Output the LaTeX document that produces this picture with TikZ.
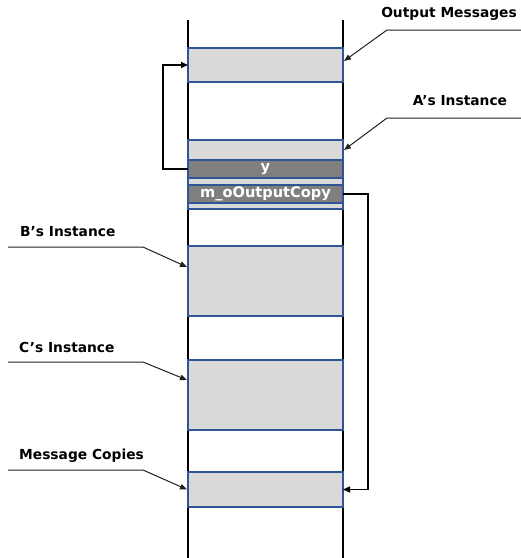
\documentclass[tikz,border=0pt]{standalone}
\usepackage{fontspec}
\setmainfont{DejaVu Sans}
\usetikzlibrary{arrows.meta}
\definecolor{slotfill}{HTML}{D9D9D9}
\definecolor{slotedge}{HTML}{2F5597}
\definecolor{darkslot}{HTML}{7F7F7F}
\definecolor{leadgray}{HTML}{202020}
\tikzset{
  slot/.style={draw=slotedge, line width=1.3pt, fill=slotfill, inner sep=0pt, outer sep=0pt,
               minimum width=155pt, anchor=center},
  darkbox/.style={slot, fill=darkslot, text=white, font=\bfseries\fontsize{14.6}{14.6}\selectfont},
  rail/.style={line width=1.8pt, black},
  loop/.style={line width=1.5pt, black, -{Triangle[length=7pt,width=6pt]}},
  lead/.style={line width=1pt, leadgray, -{Triangle[length=7pt,width=5.5pt]}},
  lbl/.style={font=\bfseries\fontsize{13.8}{14}\selectfont, inner sep=0pt}
}
\begin{document}
\begin{tikzpicture}[x=1pt,y=-1pt]
\useasboundingbox (0,0) rectangle (521,558);
% the two walls of the memory column
\draw[rail] (188,20) -- (188,558);
\draw[rail] (343,20) -- (343,558);
% memory slots
\node[slot, minimum height=34pt] (out) at (265.5,65) {};
\node[slot, minimum height=20pt] (ainst) at (265.5,150) {};
\node[darkbox, minimum height=18pt] (ybox) at (265.5,169) {y};
\node[slot, minimum height=7pt] (strip1) at (265.5,181.5) {};
\node[darkbox, minimum height=18pt] (copybox) at (265.5,194) {m\_oOutputCopy};
\node[slot, minimum height=6pt] (strip2) at (265.5,206) {};
\node[slot, minimum height=70pt] (binst) at (265.5,281) {};
\node[slot, minimum height=70pt] (cinst) at (265.5,395) {};
\node[slot, minimum height=35pt] (msgc) at (265.5,489.5) {};
% labels
\node[lbl, anchor=east] (tout) at (517,14) {Output Messages};
\node[lbl] (tainst) at (460,101) {A’s Instance};
\node[lbl, anchor=west] (tbinst) at (20,232) {B’s Instance};
\node[lbl, anchor=west] (tcinst) at (19,347) {C’s Instance};
\node[lbl, anchor=west] (tmsgc) at (19,456) {Message Copies};
% leader lines from the labels to the slots
\coordinate (lo) at (521,30);
\coordinate (la) at (521,118);
\coordinate (lb) at (8,247);
\coordinate (lc) at (8,362);
\coordinate (lm) at (8,470);
\draw[lead] (lo) -- (387,30) -- ([yshift=4pt,xshift=1pt]out.east);
\draw[lead] (la) -- (387,118) -- ([xshift=1pt]ainst.east);
\draw[lead] (lb) -- (143,247) -- ([yshift=14pt,xshift=-1pt]binst.west);
\draw[lead] (lc) -- (143,362) -- ([yshift=15pt,xshift=-1pt]cinst.west);
\draw[lead] (lm) -- (143,470) -- ([xshift=-1pt]msgc.west);
% copy paths
\draw[loop] (ybox.west) -- (163,169) |- (out.west);
\draw[loop] (copybox.east) -- (368,194) |- (msgc.east);
\end{tikzpicture}
\end{document}
